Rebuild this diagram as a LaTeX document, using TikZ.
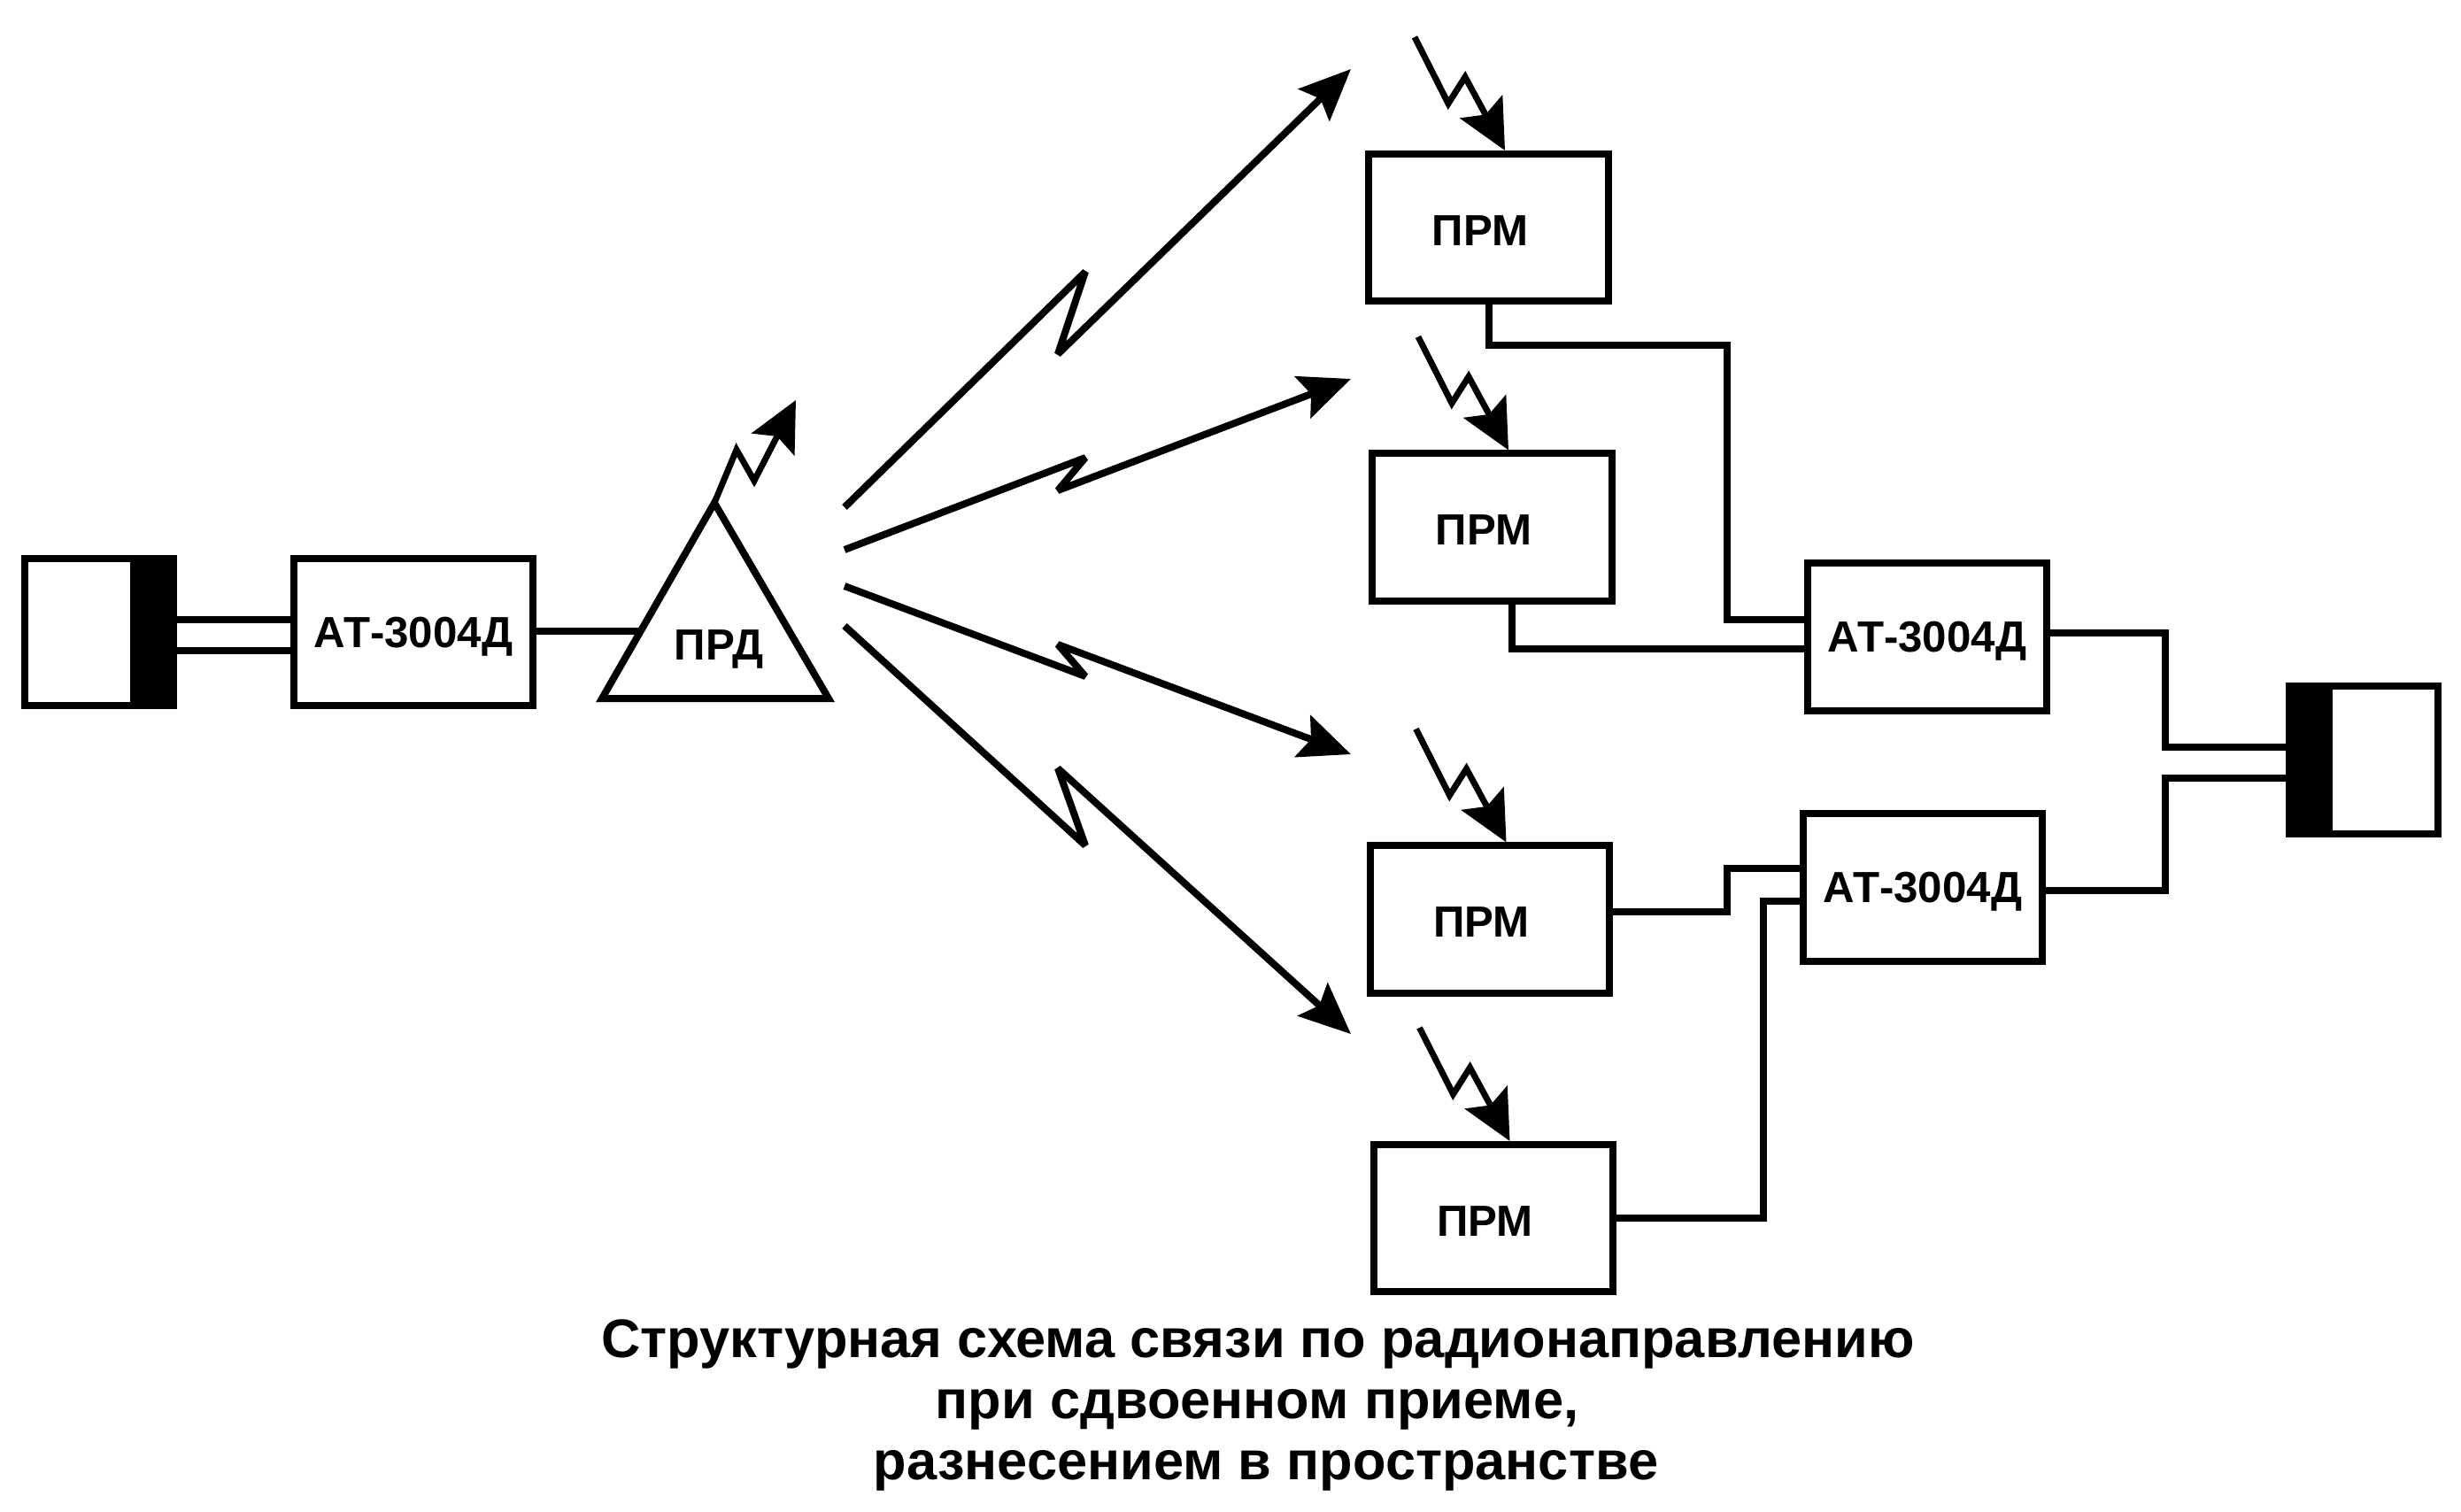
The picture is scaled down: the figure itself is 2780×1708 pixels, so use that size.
\documentclass[tikz,border=0pt]{standalone}
\usepackage{fontspec}
\setmainfont{Liberation Sans}
\usetikzlibrary{arrows.meta}
\tikzset{
  wire/.style={line width=0.08cm},
  block/.style={draw,line width=0.08cm,minimum width=2.70cm,minimum height=1.66cm,inner sep=0pt,text depth=0pt,font=\bfseries\fontsize{14}{16}\selectfont},
  term/.style={draw,line width=0.08cm,minimum width=1.68cm,minimum height=1.66cm,inner sep=0pt},
  jack/.style={fill=black,minimum width=0.53cm,minimum height=1.74cm,inner sep=0pt,outer sep=0pt},
  radio/.style={line width=0.07cm,miter limit=10,-{Stealth[length=0.56cm,width=0.54cm,inset=0.10cm]}},
  beam/.style={line width=0.08cm,line join=bevel,-{Stealth[length=0.58cm,width=0.50cm,inset=0.10cm]}},
  caption/.style={anchor=base,font=\bfseries\fontsize{17.45}{20}\selectfont}
}
\begin{document}
\begin{tikzpicture}[x=0.01cm,y=-0.01cm]
  \useasboundingbox (0,0) rectangle (2780,1708);
  % transmit side
  \node[term] (tleft) at (112,714) {};
  \node[jack] (jleft) at (173.5,714) {};
  \node[block] (atx) at (467,714) {АТ-3004Д};
  \coordinate (prdl) at (680,789);
  \coordinate (prdr) at (936,789);
  \coordinate (prdt) at (807,568);
  \coordinate (prdin) at (722,713);
  \draw[wire] (prdl) -- (prdr) -- (prdt) -- cycle;
  \node[font=\bfseries\fontsize{14}{16}\selectfont,text depth=0pt] (prd) at (812,729) {ПРД};
  \draw[wire] (jleft.east |- 0,700) -- (atx.west |- 0,700);
  \draw[wire] (jleft.east |- 0,734.5) -- (atx.west |- 0,734.5);
  \draw[wire] (atx.east |- prdin) -- (prdin);
  \draw[radio] (prdt) -- (832,508) -- (852,543) -- (899,452);
  % beams
  \draw[beam] (954,573) -- (1226,307) -- (1195,400) -- (1526,78);
  \draw[beam] (954,621) -- (1226,517) -- (1195,554) -- (1526,428);
  \draw[beam] (954,662) -- (1226,764) -- (1195,728) -- (1526,852);
  \draw[beam] (954,707) -- (1226,955) -- (1195,868) -- (1526,1168);
  % receivers
  \foreach \n/\x/\y in {1/1681.5/257,2/1685.5/595.5,3/1683/1038.5,4/1687/1376}{
    \node[block,text height=0.40cm] (prm\n) at (\x,\y) {ПРМ\hspace{0.19cm}\mbox{}};
    \draw[radio] ([shift={(-83.5,-128)}]prm\n.north) -- ++(38,75) -- ++(19,-30) -- ([xshift=0.185cm]prm\n.north);
  }
  \node[block] (atu) at (2177,719.5) {АТ-3004Д};
  \node[block] (atv) at (2172,1002.5) {АТ-3004Д};
  \node[term] (tright) at (2670,858.5) {};
  \node[jack] (jright) at (2608.5,858.5) {};
  % connections
  \draw[wire] (prm1.south) |- (1951,390) |- (atu.west |- 0,700);
  \draw[wire] (prm2.south -| 1708,0) |- (atu.west |- 0,733);
  \draw[wire] (prm3.east |- 0,1030) -- (1951,1030) |- (atv.west |- 0,981);
  \draw[wire] (prm4.east |- 0,1376) -- (1992,1376) |- (atv.west |- 0,1018);
  \draw[wire] (atu.east |- 0,715) -- (2446,715) |- (jright.west |- 0,844);
  \draw[wire] (atv.east |- 0,1006) -- (2446,1006) |- (jright.west |- 0,879);
  % caption
  \node[caption] (capa) at (1421,1533) {Структурная схема связи по радионаправлению};
  \node[caption] (capb) at (1420,1602) {при сдвоенном приеме,};
  \node[caption] (capc) at (1430,1671) {разнесением в пространстве};
\end{tikzpicture}
\end{document}
